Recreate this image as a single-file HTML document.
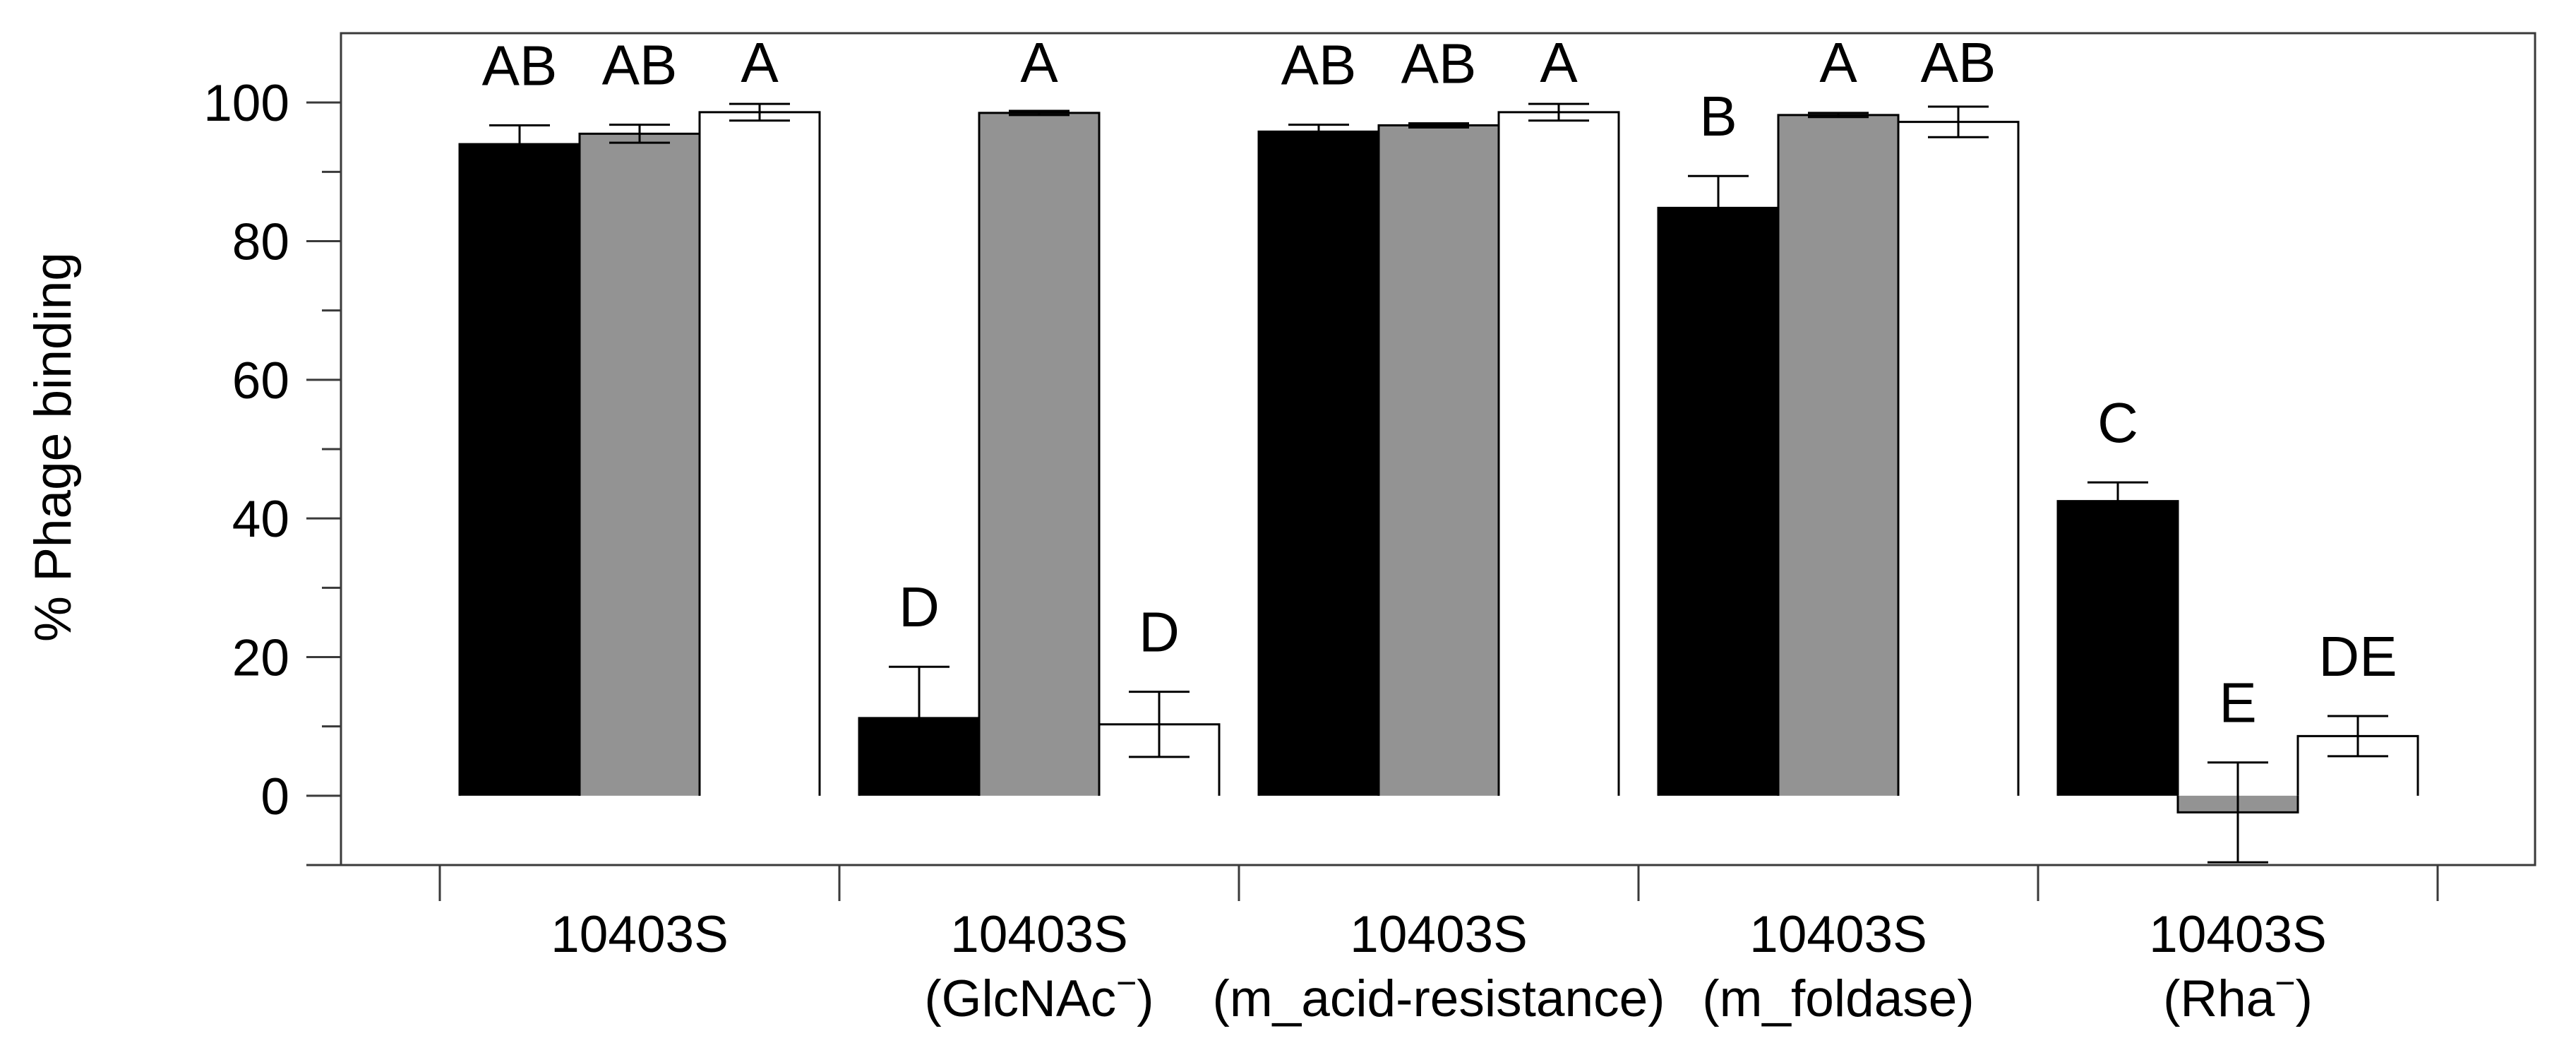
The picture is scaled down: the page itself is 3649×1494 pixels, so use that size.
<!DOCTYPE html>
<html><head><meta charset="utf-8"><style>
html,body{margin:0;padding:0;background:#fff;}
svg{display:block;}
text{font-family:"Liberation Sans",Arial,sans-serif;fill:#000;}
</style></head><body>
<svg id="chart" width="3649" height="1494" viewBox="0 0 3649 1494" xmlns="http://www.w3.org/2000/svg">
<g id="axes"></g>
<g id="bars"></g>
<g id="errs"></g>
<g id="letters"></g>
<text x="0" y="0" font-size="73" text-anchor="middle" transform="translate(100,633) rotate(-90)">% Phage binding</text>
</svg>
<script>
const categories = ["10403S", "10403S (GlcNAc)", "10403S (m_acid-resistance)", "10403S (m_foldase)", "10403S (Rha)"];
const line1 = ["10403S","10403S","10403S","10403S","10403S"];
const line2 = ["", "(GlcNAc", "(m_acid-resistance)", "(m_foldase)", "(Rha"];
const line2Sup = [false, true, false, false, true];
const seriesBlack = [94.0, 11.2, 95.8, 84.8, 42.5];
const seriesGray  = [95.5, 98.5, 96.7, 98.2, -2.4];
const seriesWhite = [98.6, 10.3, 98.6, 97.2, 8.6];
const errBlack = [2.7, 7.4, 1.0, 4.6, 2.7];
const errGray  = [1.3, 0.3, 0.3, 0.3, 7.2];
const errWhite = [1.2, 4.7, 1.2, 2.2, 2.9];
const lettersBlack = ["AB","D","AB","B","C"];
const lettersGray  = ["AB","A","AB","A","E"];
const lettersWhite = ["A","D","A","AB","DE"];
const yTicks = [0,20,40,60,80,100];
const yMinor = [-10,10,30,50,70,90];

const NS="http://www.w3.org/2000/svg";
const X0=623, GW=566, BW=170, OFF=28;
const yMin=-10, yMax=110, PT=47, PB=1225;
function y(v){return PB-(v-yMin)/(yMax-yMin)*(PB-PT);}
function gx(i){return X0+i*GW;}
function mk(tag,attrs,parent){const e=document.createElementNS(NS,tag);for(const k in attrs)e.setAttribute(k,attrs[k]);parent.appendChild(e);return e;}
const axes=document.getElementById('axes'),bars=document.getElementById('bars'),errs=document.getElementById('errs'),lets=document.getElementById('letters');
const AX="#3a3a3a";
let fr=mk('rect',{x:483,y:PT,width:3591-483,height:PB-PT,fill:'none',stroke:AX,'stroke-width':3},axes);


let bl=mk('line',{x1:434,x2:3591,y1:PB,y2:PB,stroke:AX,'stroke-width':3},axes);


yTicks.forEach(t=>{
  let l=mk('line',{x1:434,x2:483,y1:y(t),y2:y(t),stroke:AX,'stroke-width':3},axes);
  
  
  let tx=mk('text',{x:410,y:y(t)+26,'font-size':73,'text-anchor':'end'},axes);
  tx.textContent=t;
  
  
});
yMinor.forEach(t=>{
  let l=mk('line',{x1:456,x2:483,y1:y(t),y2:y(t),stroke:AX,'stroke-width':3},axes);
  
  
});
for(let i=0;i<=categories.length;i++){
  let l=mk('line',{x1:gx(i),x2:gx(i),y1:PB,y2:1276,stroke:AX,'stroke-width':3},axes);
  
  
}
categories.forEach((c,i)=>{
  const cx=gx(i)+GW/2;
  let t1=mk('text',{x:cx,y:1348,'font-size':73,'text-anchor':'middle'},axes);
  t1.textContent=line1[i];
  
  
  if(line2[i]){
    let t2=mk('text',{x:cx,y:1439,'font-size':73,'text-anchor':'middle'},axes);
    
    
    if(line2Sup[i]){
      t2.appendChild(document.createTextNode(line2[i]));
      const s=mk('tspan',{dy:-30,'font-size':50},t2);s.textContent='\u2212';
      const e=mk('tspan',{dy:30},t2);e.textContent=')';
    } else t2.textContent=line2[i];
  }
});
const series=[{v:seriesBlack,e:errBlack,l:lettersBlack,fill:'#000',n:'black'},{v:seriesGray,e:errGray,l:lettersGray,fill:'#939393',n:'gray'},{v:seriesWhite,e:errWhite,l:lettersWhite,fill:'#fff',n:'white'}];
series.forEach((s,si)=>{
  s.v.forEach((v,i)=>{
    const x=gx(i)+OFF+si*BW, y0=y(0), yv=y(v);
    let r=mk('rect',{x:x,y:Math.min(y0,yv),width:BW,height:Math.abs(y0-yv),fill:s.fill},bars);
    
    
    let p=mk('path',{d:`M${x},${y0} L${x},${yv} L${x+BW},${yv} L${x+BW},${y0}`,fill:'none',stroke:'#000','stroke-width':3},bars);
    
    
    const cx=x+BW/2, yt=y(v+s.e[i]), yb=y(v-s.e[i]);
    let eg=mk('path',{d:`M${cx},${yt} L${cx},${yb} M${cx-43},${yt} L${cx+43},${yt} M${cx-43},${yb} L${cx+43},${yb}`,fill:'none',stroke:'#000','stroke-width':3},errs);
    
    
    const base=Math.max(116,yt-57);
    let lt=mk('text',{x:cx,y:base,'font-size':80,'text-anchor':'middle'},lets);
    lt.textContent=s.l[i];
    
    
  });
});
</script>
</body></html>
